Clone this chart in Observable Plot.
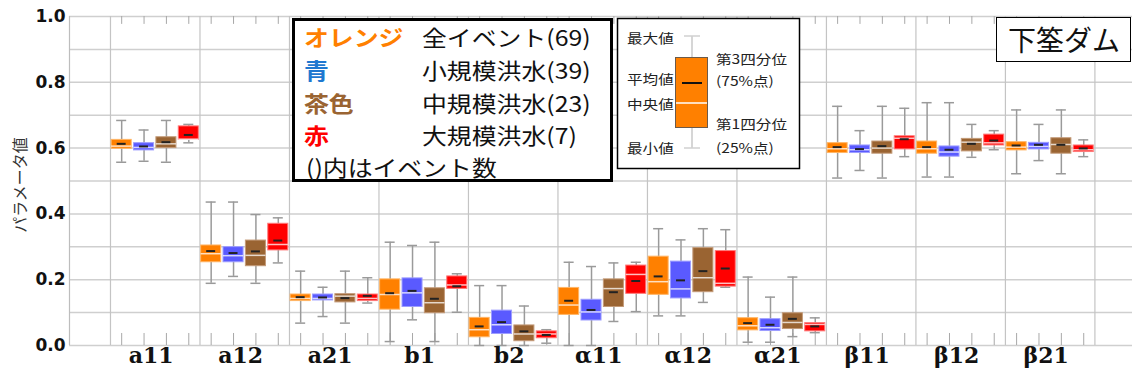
<!DOCTYPE html>
<html>
<head>
<meta charset="utf-8">
<script src="https://cdn.jsdelivr.net/npm/d3@7"></script>
<script src="https://cdn.jsdelivr.net/npm/@observablehq/plot@0.6"></script>
<style>
  body { margin: 0; background: #fff; }
  #chart svg { display: block; }
</style>
</head>
<body>
<div id="chart"></div>
<script>
// Parameter groups along the x axis
const groups = ["a11", "a12", "a21", "b1", "b2", "α11", "α12", "α21", "β11", "β12", "β21"];

// Event classes (series) and their event counts
const seriesKeys = ["全イベント", "小規模洪水", "中規模洪水", "大規模洪水"];
const eventCounts = [69, 39, 23, 7];
const colorNames = ["オレンジ", "青", "茶色", "赤"];

// Box statistics per group: [min, q1, median, mean, q3, max]
const allEvents = [
  [0.557, 0.598, 0.606, 0.613, 0.625, 0.684],
  [0.189, 0.253, 0.279, 0.287, 0.304, 0.436],
  [0.068, 0.135, 0.143, 0.147, 0.155, 0.226],
  [0.012, 0.109, 0.155, 0.159, 0.201, 0.314],
  [0.000, 0.025, 0.048, 0.058, 0.084, 0.182],
  [0.000, 0.093, 0.123, 0.136, 0.175, 0.253],
  [0.090, 0.154, 0.194, 0.210, 0.270, 0.355],
  [0.010, 0.046, 0.060, 0.068, 0.083, 0.208],
  [0.509, 0.585, 0.598, 0.603, 0.615, 0.727],
  [0.512, 0.583, 0.598, 0.603, 0.620, 0.738],
  [0.522, 0.593, 0.603, 0.608, 0.618, 0.716]
];
const smallFloods = [
  [0.560, 0.593, 0.602, 0.605, 0.615, 0.655],
  [0.210, 0.253, 0.273, 0.281, 0.299, 0.436],
  [0.088, 0.137, 0.143, 0.146, 0.155, 0.177],
  [0.078, 0.117, 0.160, 0.166, 0.204, 0.304],
  [0.000, 0.035, 0.063, 0.071, 0.106, 0.182],
  [0.000, 0.076, 0.102, 0.108, 0.139, 0.240],
  [0.090, 0.143, 0.172, 0.198, 0.255, 0.321],
  [0.010, 0.044, 0.054, 0.063, 0.080, 0.147],
  [0.532, 0.585, 0.595, 0.597, 0.608, 0.653],
  [0.512, 0.574, 0.588, 0.595, 0.605, 0.738],
  [0.562, 0.596, 0.605, 0.610, 0.616, 0.672]
];
const mediumFloods = [
  [0.557, 0.600, 0.613, 0.618, 0.633, 0.684],
  [0.189, 0.241, 0.274, 0.286, 0.319, 0.398],
  [0.068, 0.131, 0.150, 0.144, 0.156, 0.226],
  [0.012, 0.098, 0.130, 0.142, 0.174, 0.314],
  [0.000, 0.013, 0.035, 0.043, 0.061, 0.120],
  [0.073, 0.117, 0.173, 0.162, 0.201, 0.251],
  [0.131, 0.162, 0.206, 0.226, 0.296, 0.355],
  [0.027, 0.050, 0.070, 0.081, 0.098, 0.208],
  [0.509, 0.583, 0.600, 0.606, 0.620, 0.727],
  [0.572, 0.590, 0.618, 0.613, 0.628, 0.672],
  [0.522, 0.583, 0.611, 0.610, 0.630, 0.716]
];
const largeFloods = [
  [0.616, 0.625, 0.627, 0.640, 0.666, 0.672],
  [0.251, 0.289, 0.307, 0.319, 0.370, 0.388],
  [0.129, 0.135, 0.143, 0.151, 0.155, 0.206],
  [0.101, 0.172, 0.184, 0.180, 0.210, 0.218],
  [0.007, 0.022, 0.035, 0.032, 0.043, 0.048],
  [0.103, 0.157, 0.216, 0.196, 0.243, 0.253],
  [0.177, 0.179, 0.189, 0.234, 0.287, 0.352],
  [0.039, 0.043, 0.064, 0.058, 0.068, 0.084],
  [0.574, 0.596, 0.630, 0.627, 0.636, 0.721],
  [0.595, 0.608, 0.616, 0.623, 0.641, 0.653],
  [0.574, 0.588, 0.595, 0.599, 0.608, 0.625]
];
const seriesStats = [allEvents, smallFloods, mediumFloods, largeFloods];

// Styling
const boxColors = ["#ff8000", "#5a5aff", "#9a6432", "#ff0000"];
const edgeColors = ["#ffb566", "#9d9dff", "#c39a78", "#ff7a7a"];
const labelColors = ["#ff8000", "#1e78d0", "#9a6432", "#ff0000"];
const yTicks = [0, 0.2, 0.4, 0.6, 0.8, 1.0];
const yGrid = d3.range(0, 11).map(d => d / 10);

// Flatten into one row per box; each group spans one unit on x, split into 4 slots
const rows = [];
seriesStats.forEach((stats, s) => {
  stats.forEach((v, g) => {
    rows.push({
      group: groups[g], series: s, x: g + (s + 0.5) / 4,
      min: v[0], q1: v[1], median: v[2], mean: v[3], q3: v[4], max: v[5]
    });
  });
});

const xDomain = [-0.458, 11.42];
const halfBox = 0.112, halfCap = 0.056, halfMean = 0.05;
const whisker = "#9a9a9a";

const boxMarks = seriesStats.map((_, s) =>
  Plot.rect(rows.filter(r => r.series === s), {
    x1: d => d.x - halfBox, x2: d => d.x + halfBox, y1: "q1", y2: "q3",
    fill: boxColors[s], stroke: edgeColors[s], strokeWidth: 1
  })
);

const chart = Plot.plot({
  width: 1132,
  height: 383,
  marginLeft: 69,
  marginRight: 0,
  marginTop: 16,
  marginBottom: 38,
  style: { background: "#fff" },
  x: { domain: xDomain, axis: null },
  y: { domain: [0, 1], axis: null },
  marks: [
    // grid and frame
    Plot.ruleY(yGrid, { stroke: "#cfcfcf", strokeWidth: 1.5 }),
    Plot.ruleX(d3.range(0, groups.length + 1), { stroke: "#c4c4c4", strokeWidth: 1.2 }),
    Plot.ruleX([xDomain[0]], { stroke: "#bdbdbd", strokeWidth: 1.2 }),
    // inward slot ticks at bottom and top
    Plot.ruleX(rows, { x: "x", y1: () => 0, y2: () => 0.0365, stroke: "#a8a8a8" }),
    Plot.ruleX(rows, { x: "x", y1: () => 1, y2: () => 0.976, stroke: "#a8a8a8" }),
    // whiskers and caps
    Plot.ruleX(rows, { x: "x", y1: "min", y2: "max", stroke: whisker, strokeWidth: 1.5 }),
    Plot.ruleY(rows, { y: "max", x1: d => d.x - halfCap, x2: d => d.x + halfCap, stroke: whisker, strokeWidth: 1.5 }),
    Plot.ruleY(rows, { y: "min", x1: d => d.x - halfCap, x2: d => d.x + halfCap, stroke: whisker, strokeWidth: 1.5 }),
    // boxes
    ...boxMarks,
    // median (light line) and mean (dark dash)
    Plot.ruleY(rows, { y: "median", x1: d => d.x - halfBox, x2: d => d.x + halfBox, stroke: "#ffffff", strokeOpacity: 0.75, strokeWidth: 1.5 }),
    Plot.ruleY(rows, { y: "mean", x1: d => d.x - halfMean, x2: d => d.x + halfMean, stroke: "#222", strokeWidth: 2 }),
    // axes
    Plot.axisY({
      ticks: yTicks, tickFormat: d3.format(".1f"), tickSize: 0, tickPadding: 4,
      fontSize: 17, fontWeight: "bold", fontFamily: "DejaVu Sans", color: "#111", label: null
    }),
    Plot.text(groups, {
      x: (d, i) => i + 0.5, frameAnchor: "bottom", dy: 17, dx: -4, text: d => d,
      fontSize: 22, fontWeight: "bold", fontFamily: "DejaVu Serif", fill: "#111"
    }),
    Plot.text(["パラメータ値"], {
      frameAnchor: "left", textAnchor: "middle", dx: -49, dy: 4, rotate: -90, text: d => d,
      fontSize: 16, fontFamily: "'Noto Sans CJK JP', sans-serif", fill: "#333"
    })
  ]
});

document.getElementById("chart").appendChild(chart);

// Overlay legend boxes
const svg = d3.select(chart);
const jp = "'Noto Sans CJK JP', sans-serif";
function label(g, x, y, str, size, sx, opts = {}) {
  return g.append("text")
    .attr("transform", `translate(${x},${y}) scale(${sx},1)`)
    .attr("text-anchor", "start")
    .attr("dominant-baseline", "central")
    .attr("font-size", size)
    .attr("font-family", jp)
    .attr("font-weight", opts.bold ? "bold" : "normal")
    .attr("fill", opts.fill || "#111")
    .text(str);
}

// Series legend
const leg = svg.append("g");
leg.append("rect").attr("x", 293.5).attr("y", 19.5).attr("width", 318).attr("height", 161)
  .attr("fill", "#fff").attr("stroke", "#000").attr("stroke-width", 3);
const rowY = [37, 70, 103, 135];
seriesKeys.forEach((k, i) => {
  label(leg, 304, rowY[i], colorNames[i], 22, 1.13, { bold: true, fill: labelColors[i] });
  label(leg, 422, rowY[i], `${k}(${eventCounts[i]})`, 22, 1.13);
});
label(leg, 306, 167, "()内はイベント数", 22, 1.13);

// Box-plot key
const key = svg.append("g");
key.append("rect").attr("x", 617.5).attr("y", 18.5).attr("width", 182).attr("height", 150)
  .attr("fill", "#fff").attr("stroke", "#000").attr("stroke-width", 1.5);
key.append("line").attr("x1", 692).attr("x2", 692).attr("y1", 36).attr("y2", 148).attr("stroke", "#c8c8c8").attr("stroke-width", 1.5);
key.append("line").attr("x1", 684).attr("x2", 700).attr("y1", 36).attr("y2", 36).attr("stroke", "#d0d0d0").attr("stroke-width", 1.5);
key.append("line").attr("x1", 684).attr("x2", 700).attr("y1", 148).attr("y2", 148).attr("stroke", "#d0d0d0").attr("stroke-width", 1.5);
key.append("rect").attr("x", 675.5).attr("y", 57.5).attr("width", 32).attr("height", 70)
  .attr("fill", "#ff8000").attr("stroke", "#6b5a4a").attr("stroke-width", 1);
key.append("line").attr("x1", 682).attr("x2", 702).attr("y1", 83).attr("y2", 83).attr("stroke", "#111").attr("stroke-width", 2);
key.append("line").attr("x1", 676).attr("x2", 707).attr("y1", 103).attr("y2", 103).attr("stroke", "#fff").attr("stroke-width", 1.5);
label(key, 627, 37, "最大値", 13, 1.2, { fill: "#222" });
label(key, 627, 78, "平均値", 13, 1.2, { fill: "#222" });
label(key, 627, 103, "中央値", 13, 1.2, { fill: "#222" });
label(key, 627, 147, "最小値", 13, 1.2, { fill: "#222" });
label(key, 716, 58, "第3四分位", 13, 1.2, { fill: "#222" });
label(key, 716, 80, "(75%点)", 13, 1.2, { fill: "#222" });
label(key, 716, 123, "第1四分位", 13, 1.2, { fill: "#222" });
label(key, 716, 147, "(25%点)", 13, 1.2, { fill: "#222" });

// Dam name box
const dam = svg.append("g");
dam.append("rect").attr("x", 996.5).attr("y", 17.5).attr("width", 134).attr("height", 44)
  .attr("fill", "#fff").attr("stroke", "#000").attr("stroke-width", 1);
label(dam, 1008, 39, "下筌ダム", 28, 1.0, { fill: "#111" });
</script>
</body>
</html>
